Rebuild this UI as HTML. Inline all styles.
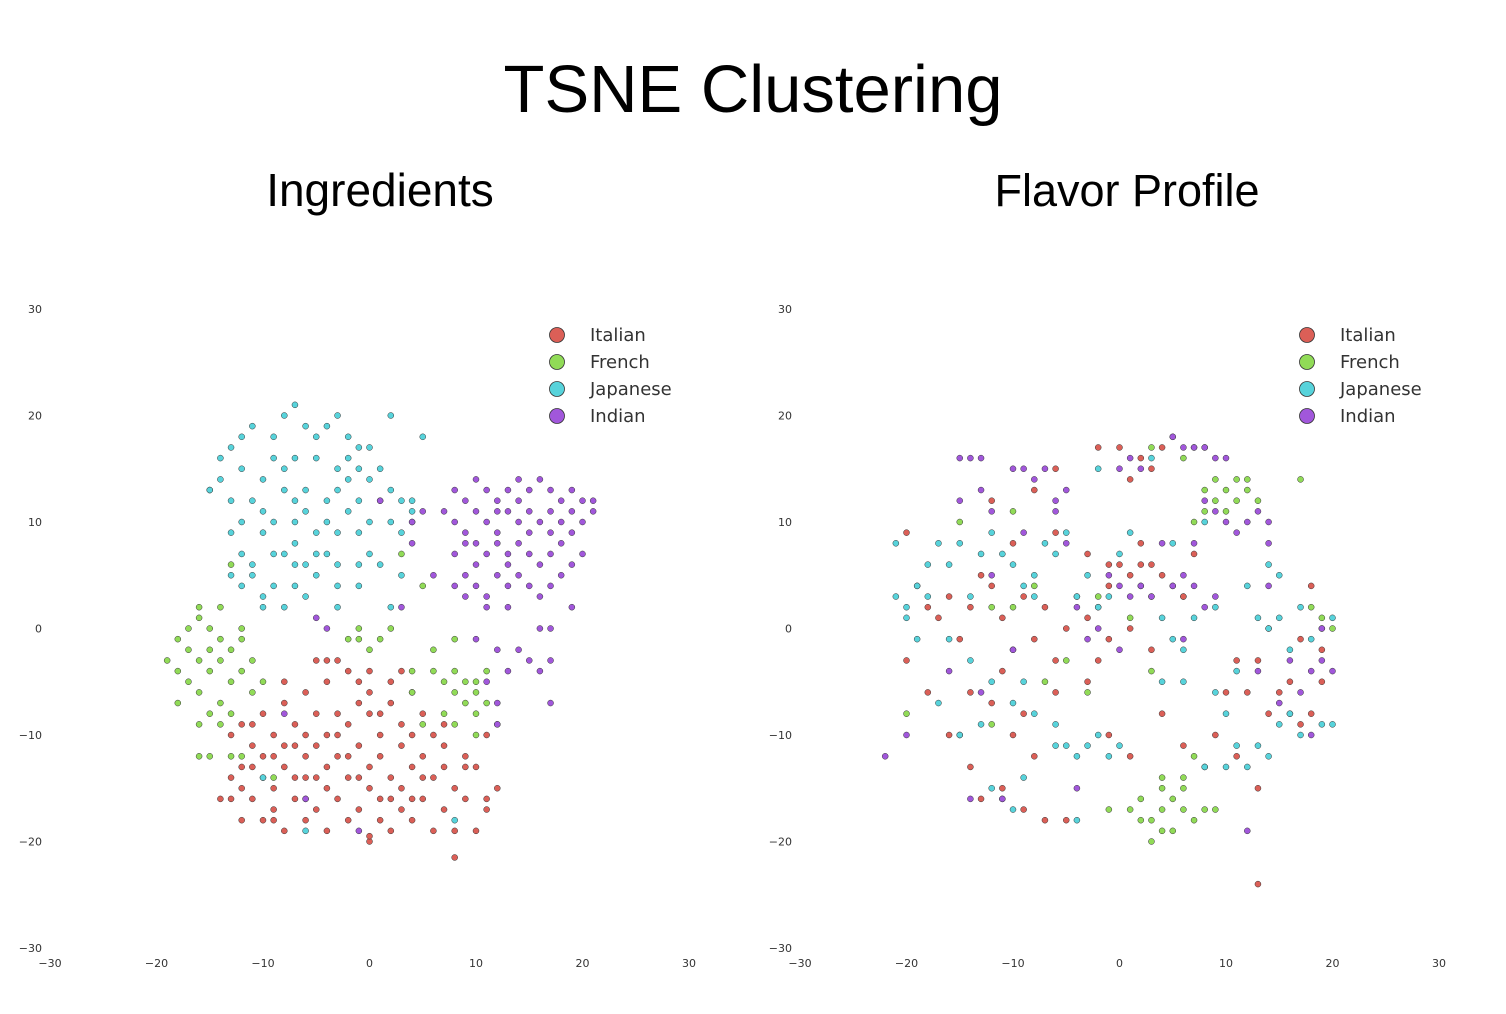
<!DOCTYPE html>
<html><head><meta charset="utf-8">
<style>
html,body{margin:0;padding:0;background:#fff;}
svg{display:block;}
.tick{font-family:"DejaVu Sans","Liberation Sans",sans-serif;font-size:11px;fill:#333;}
.leg{font-family:"DejaVu Sans","Liberation Sans",sans-serif;font-size:18px;fill:#333;}
</style></head>
<body>
<svg id="chart" width="1506" height="1014" xmlns="http://www.w3.org/2000/svg">
<text x="753" y="112" text-anchor="middle" font-family="'Liberation Sans',sans-serif" font-size="67" fill="#000">TSNE Clustering</text>
<text x="380" y="206" text-anchor="middle" font-family="'Liberation Sans',sans-serif" font-size="46" fill="#000">Ingredients</text>
<text x="1127" y="206" text-anchor="middle" font-family="'Liberation Sans',sans-serif" font-size="45" fill="#000">Flavor Profile</text>
<g id="p1"></g>
<g id="p2"></g>
</svg>
<script>
const tickValues = [-30,-20,-10,0,10,20,30];
const cuisines = ["Italian","French","Japanese","Indian"];
const colors = ["#db5f57","#91db57","#57d3db","#a157db"];

const ingItalian = [[-12,-9],[-10,-8],[-8,-7],[-6,-6],[-4,-5],[-2,-4],[0,-4],[2,-5],[4,-6],[-5,-3],[-3,-3],[-1,-5],[-9,-10],[-7,-9],[-5,-8],[-3,-8],[-1,-7],[1,-8],[3,-9],[5,-8],[7,-9],[-11,-11],[-9,-12],[-7,-11],[-5,-11],[-3,-10],[-1,-11],[1,-10],[3,-11],[5,-12],[7,-11],[9,-12],[11,-10],[-12,-13],[-10,-14],[-8,-13],[-6,-14],[-4,-13],[-2,-14],[0,-13],[2,-14],[4,-13],[6,-14],[8,-15],[10,-13],[-13,-16],[-11,-16],[-9,-17],[-7,-16],[-5,-17],[-3,-16],[-1,-17],[1,-16],[3,-17],[5,-16],[7,-17],[9,-16],[11,-17],[-12,-18],[-10,-18],[-8,-19],[-6,-18],[-4,-19],[-2,-18],[0,-20],[2,-19],[4,-18],[6,-19],[8,-19],[8,-21.5],[0,-19.5],[-11,-13],[-9,-15],[-7,-14],[-5,-14],[-3,-12],[-1,-14],[1,-12],[3,-15],[5,-14],[7,-13],[-13,-14],[-14,-16],[-12,-15],[-10,-12],[-8,-11],[-6,-10],[-4,-10],[-2,-9],[0,-8],[2,-7],[4,-10],[6,-10],[-11,-9],[-13,-10],[-8,-5],[-4,-3],[0,-6],[3,-4],[-6,-12],[-2,-12],[-4,-15],[0,-15],[2,-16],[-6,-16],[9,-13],[11,-16],[12,-15],[10,-19],[4,-16],[-9,-18],[1,-18]];
const ingFrench = [[-19,-3],[-18,-1],[-18,-4],[-17,0],[-17,-2],[-17,-5],[-16,1],[-16,-3],[-16,-6],[-15,0],[-15,-2],[-15,-4],[-14,-1],[-14,-3],[-14,-7],[-13,-2],[-13,-5],[-13,-8],[-12,-4],[-12,-1],[-15,-8],[-16,-9],[-14,-9],[-15,-12],[-16,-12],[-13,-12],[-11,-6],[-10,-5],[-12,0],[-11,-3],[-18,-7],[-16,2],[-14,2],[-15,13],[-13,6],[-2,-1],[-1,-1],[0,-2],[1,-1],[2,0],[-1,0],[6,-4],[7,-5],[8,-4],[8,-6],[9,-5],[9,-7],[10,-5],[10,-6],[10,-8],[11,-7],[11,-4],[12,-9],[7,-8],[8,-9],[10,-10],[5,-9],[4,-6],[4,-4],[6,-2],[8,-1],[5,4],[3,7],[-9,-14],[-12,-12]];
const ingJapanese = [[-14,16],[-13,17],[-12,18],[-11,19],[-9,18],[-8,20],[-7,21],[-6,19],[-5,18],[-4,19],[-3,20],[-2,18],[-1,17],[0,17],[2,20],[-14,14],[-12,15],[-10,14],[-8,15],[-7,16],[-5,16],[-3,15],[-2,16],[-1,15],[0,14],[1,15],[-13,12],[-11,12],[-10,11],[-8,13],[-6,13],[-4,12],[-3,13],[-1,12],[1,12],[2,13],[3,12],[4,12],[-13,9],[-12,10],[-10,9],[-9,10],[-7,10],[-6,11],[-5,9],[-4,10],[-3,9],[-2,11],[-1,9],[0,10],[2,10],[3,9],[4,11],[-12,7],[-11,6],[-9,7],[-8,7],[-7,8],[-6,6],[-5,7],[-4,7],[-3,6],[-1,6],[0,7],[1,6],[-12,4],[-11,5],[-10,3],[-9,4],[-7,4],[-6,3],[-5,5],[-3,4],[-1,4],[2,2],[-8,2],[-10,2],[-13,5],[5,18],[-15,13],[4,10],[3,5],[-9,16],[-7,12],[-2,14],[8,-18],[-6,-19],[-10,-14],[-7,6],[-3,2]];
const ingIndian = [[8,13],[9,12],[10,14],[11,13],[12,12],[13,13],[14,14],[15,13],[16,14],[17,13],[18,12],[19,13],[20,12],[21,12],[21,11],[8,10],[9,9],[10,11],[11,10],[12,9],[13,11],[14,10],[15,11],[16,10],[17,9],[18,10],[19,9],[20,10],[8,7],[9,8],[10,6],[11,7],[12,8],[13,7],[14,8],[15,7],[16,6],[17,7],[18,8],[19,6],[20,7],[8,4],[9,5],[10,4],[11,3],[12,5],[13,4],[14,5],[15,4],[16,3],[17,4],[18,5],[11,2],[13,2],[16,0],[17,0],[19,2],[10,-1],[12,-2],[14,-2],[15,-3],[16,-4],[17,-3],[13,-4],[11,-5],[12,-7],[17,-7],[12,-9],[5,11],[4,8],[6,5],[3,2],[-5,1],[-4,0],[4,10],[1,12],[-8,-8],[-6,-16],[-1,-19],[7,11],[19,11],[15,9],[14,12],[10,8],[12,11],[17,11],[13,6],[9,3]];

const flvItalian = [[-20,9],[-19,4],[-18,2],[-17,1],[-16,3],[-15,-1],[-14,2],[-13,5],[-12,4],[-11,1],[-10,-2],[-9,3],[-8,-1],[-7,2],[-6,-3],[-5,0],[-4,3],[-3,1],[-2,2],[-1,4],[0,6],[1,5],[2,6],[3,6],[4,5],[5,4],[6,3],[3,-2],[1,0],[-1,-1],[-2,-3],[-3,-5],[-6,-6],[-9,-8],[-12,-7],[-15,-10],[-14,-13],[-13,-16],[-11,-15],[-9,-17],[-7,-18],[-5,-18],[-8,-12],[-10,-10],[-20,-3],[-18,-6],[-16,-10],[-14,-6],[-11,-4],[0,17],[2,16],[3,15],[4,17],[1,14],[-2,17],[-6,15],[-8,13],[-12,12],[-10,8],[-6,9],[-3,7],[-1,6],[2,8],[7,7],[6,3],[14,0],[13,-3],[15,-6],[16,-8],[17,-9],[18,-8],[19,-5],[16,-5],[14,-8],[12,-6],[11,-3],[10,-6],[18,4],[13,-15],[13,-24],[6,-11],[4,-8],[1,-12],[-1,-10],[9,-10],[11,-12],[19,-2],[17,-1]];
const flvFrench = [[2,-16],[3,-18],[4,-15],[4,-17],[5,-16],[5,-19],[6,-17],[3,-20],[4,-19],[6,-14],[8,-17],[9,-17],[7,-18],[2,-18],[1,-17],[-1,-17],[4,-14],[7,-12],[8,-13],[6,-15],[7,10],[8,11],[9,12],[10,13],[11,14],[12,13],[13,12],[8,13],[10,11],[11,12],[9,14],[12,14],[6,16],[8,17],[3,17],[17,14],[19,1],[18,2],[20,0],[-7,-5],[-5,-3],[-8,4],[-10,2],[-12,-9],[-15,10],[-20,-8],[-12,2],[-2,3],[3,-4],[-3,-6],[1,1],[-10,11]];
const flvJapanese = [[-21,8],[-21,3],[-20,2],[-19,4],[-20,1],[-18,3],[-17,8],[-16,6],[-15,8],[-14,3],[-13,7],[-12,9],[-11,7],[-10,6],[-9,4],[-8,3],[-7,8],[-6,7],[-5,9],[-4,3],[-3,5],[-2,2],[-1,3],[0,7],[1,9],[2,4],[3,3],[4,1],[5,-1],[6,-2],[7,1],[9,2],[-14,-3],[-12,-5],[-10,-7],[-8,-8],[-6,-9],[-5,-11],[-4,-12],[-3,-11],[-2,-10],[-1,-12],[0,-11],[-13,-9],[-15,-10],[-17,-7],[-11,-16],[-12,-15],[-10,-17],[-9,-14],[-4,-18],[-6,-11],[9,-6],[10,-8],[11,-11],[12,-13],[13,-11],[14,-12],[15,-9],[16,-8],[17,-10],[19,-9],[20,-9],[13,1],[14,0],[15,1],[16,-2],[17,2],[18,-1],[19,0],[20,1],[12,4],[14,6],[15,5],[5,18],[7,17],[3,16],[-2,15],[-9,-5],[-16,-1],[-19,-1],[-18,6],[-8,5],[4,-5],[6,-5],[8,-13],[10,-13],[11,-4],[5,8],[8,10]];
const flvIndian = [[-15,16],[-14,16],[-13,16],[-10,15],[-9,15],[-8,14],[-7,15],[-6,12],[-5,13],[-6,11],[-15,12],[-13,13],[-12,11],[0,15],[1,16],[2,15],[5,18],[6,17],[7,17],[8,17],[9,16],[10,16],[8,12],[9,11],[10,10],[11,9],[12,10],[13,11],[14,10],[14,8],[-1,5],[0,4],[1,3],[2,4],[3,3],[5,4],[6,5],[7,4],[8,2],[9,3],[6,-1],[-4,2],[-3,-1],[-2,0],[0,-2],[-13,-6],[-16,-4],[-22,-12],[-20,-10],[-14,-16],[-4,-15],[-11,-16],[12,-19],[13,-4],[15,-7],[16,-3],[17,-6],[18,-4],[19,-3],[20,-4],[19,0],[18,-10],[14,4],[-5,8],[-9,9],[-12,5],[-10,-2],[4,8],[7,8]];

const NS = "http://www.w3.org/2000/svg";
function mk(tag, attrs, parent){const e=document.createElementNS(NS,tag);for(const k in attrs)e.setAttribute(k,attrs[k]);parent.appendChild(e);return e;}

function drawPlot(g, x0, seriesList, slug){
  const sx = v => x0 + (v + 30) * 639 / 60;
  const sy = v => 948 - (v + 30) * 639 / 60;
  tickValues.forEach(t => {
    const lab = t < 0 ? "\u2212" + Math.abs(t) : String(t);
    const tx = mk("text",{x:sx(t),y:967,"text-anchor":"middle",class:"tick"},g);
    tx.textContent = lab;
    
    
    const ty = mk("text",{x:x0-8,y:sy(t)+4,"text-anchor":"end",class:"tick"},g);
    ty.textContent = lab;
    
    
  });
  seriesList.forEach((pts, i) => {
    const sg = mk("g",{},g);
    
    
    pts.forEach(p => {
      const c = mk("circle",{cx:sx(p[0]),cy:sy(p[1]),r:3,fill:colors[i],stroke:"#333","stroke-width":0.5},sg);
      
      
    });
  });
  cuisines.forEach((c, i) => {
    const lg = mk("g",{},g);
    
    
    const y = 335 + i * 27;
    mk("circle",{cx:x0+507,cy:y,r:7.5,fill:colors[i],stroke:"#333","stroke-width":0.8},lg);
    const t = mk("text",{x:x0+540,y:y+6,class:"leg"},lg);
    t.textContent = c;
  });
}
drawPlot(document.getElementById("p1"), 50, [ingItalian, ingFrench, ingJapanese, ingIndian], "ingredients");
drawPlot(document.getElementById("p2"), 800, [flvItalian, flvFrench, flvJapanese, flvIndian], "flavor");
</script>
</body></html>
